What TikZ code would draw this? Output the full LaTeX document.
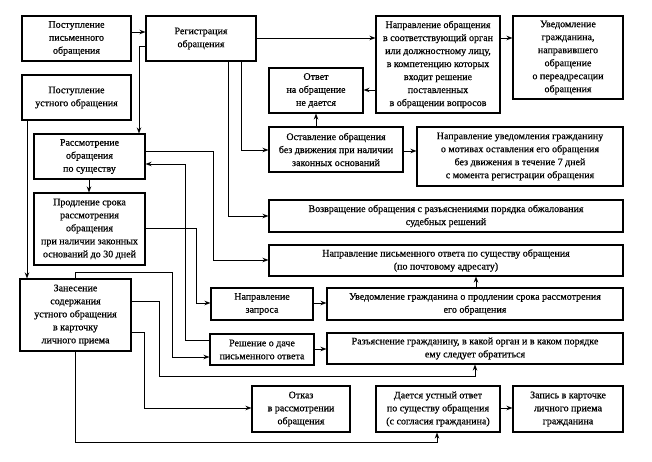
\documentclass[tikz,border=0pt]{standalone}
\usepackage{fontspec}
\setmainfont{Liberation Serif}[FakeBold=0.6]
\usetikzlibrary{arrows.meta}
\newcommand\mybx[6]{\node[box, minimum width={(#4-#2)*1pt}, minimum height={(#5-#3)*1pt}] (#1) at ({(#2+#4)/2},{(#3+#5)/2}) {#6};}
\begin{document}
\begin{tikzpicture}[x=1pt,y=-1pt,
  box/.style={draw, line width=1.1pt, align=center, inner sep=1pt, font=\fontsize{10}{13}\selectfont},
  arr/.style={-{Stealth[length=6pt,width=4.5pt]}, line width=0.9pt}]
\useasboundingbox[fill=white] (0,0) rectangle (652,462);
\mybx{b1}{22}{16}{131}{61}{Поступление\\письменного\\обращения}
\mybx{b2}{146}{16}{256}{61}{Регистрация\\обращения}
\mybx{b3}{22}{75}{131}{120}{Поступление\\устного обращения}
\mybx{b4}{34}{134}{145}{179}{Рассмотрение\\обращения\\по существу}
\mybx{b5}{34}{193}{145}{265}{Продление срока\\рассмотрения\\обращения\\при наличии законных\\оснований до 30 дней}
\mybx{b6}{20}{279}{131}{351}{Занесение\\содержания\\устного обращения\\в карточку\\личного приема}
\mybx{b7}{376}{16}{500}{113}{Направление обращения\\в соответствующий орган\\или должностному лицу,\\в компетенцию которых\\входит решение\\поставленных\\в обращении вопросов}
\mybx{b8}{513}{16}{623}{99}{Уведомление\\гражданина,\\направившего\\обращение\\о переадресации\\обращения}
\mybx{b9}{269}{68}{363}{113}{Ответ\\на обращение\\не дается}
\mybx{b10}{269}{127}{403}{172}{Оставление обращения\\без движения при наличии\\законных оснований}
\mybx{b11}{417}{127}{623}{186}{Направление уведомления гражданину\\о мотивах оставления его обращения\\без движения в течение 7 дней\\с момента регистрации обращения}
\mybx{b12}{269}{200}{623}{232}{Возвращение обращения с разъяснениями порядка обжалования\\судебных решений}
\mybx{b13}{269}{245}{623}{276}{Направление письменного ответа по существу обращения\\(по почтовому адресату)}
\mybx{b14}{211}{288}{313}{320}{Направление\\запроса}
\mybx{b15}{327}{288}{623}{320}{Уведомление гражданина о продлении срока рассмотрения\\его обращения}
\mybx{b16}{210}{334}{314}{365}{Решение о даче\\письменного ответа}
\mybx{b17}{327}{333}{623}{364}{Разъяснение гражданину, в какой орган и в каком порядке\\ему следует обратиться}
\mybx{b18}{252}{386}{350}{432}{Отказ\\в рассмотрении\\обращения}
\mybx{b19}{376}{386}{500}{432}{Дается устный ответ\\по существу обращения\\(с согласия гражданина)}
\mybx{b20}{513}{386}{623}{432}{Запись в карточке\\личного приема\\гражданина}
% connectors
\draw[arr] (b1.east |- 0,32) -- (b2.west |- 0,32);
\draw[arr] (b2.west |- 0,46) -| (b4.north -| 139,0);
\draw[arr] (b2.east |- 0,38) -- (b7.west |- 0,38);
\draw[arr] (b7.east |- 0,38) -- (b8.west |- 0,38);
\draw[arr] (b7.west |- 0,90) -- (b9.east |- 0,90);
\draw[arr] (b10.north -| 316,0) -- (b9.south -| 316,0);
\draw[arr] (b10.east |- 0,151) -- (b11.west |- 0,151);
\draw[arr] (b2.south -| 241,0) |- (b10.west |- 0,150);
\draw[arr] (b2.south -| 228,0) |- (b12.west);
\draw[arr] (b4.east |- 0,151) -| (213,260) -- (b13.west |- 0,260);
\draw[arr] (b4.south -| 89,0) -- (b5.north -| 89,0);
\draw[arr] (b16.west |- 0,340) -| (185,164) -- (b4.east |- 0,164);
\draw[arr] (b5.east |- 0,228) -| (196,303) -- (b14.west |- 0,303);
\draw[arr] (b14.east |- 0,303) -- (b15.west |- 0,303);
\draw[arr] (b15.north -| 476,0) -- (b13.south -| 476,0);
\draw[arr] (b16.east |- 0,349) -- (b17.west |- 0,349);
\draw[arr] (b6.north -| 75,0) -- (75,272) -| (172,357) -- (b16.west |- 0,357);
\draw[arr] (b6.east |- 0,301) -| (159,376) -| (b17.south -| 475,0);
\draw[arr] (b6.east |- 0,332) -| (144,408) -- (b18.west |- 0,408);
\draw[arr] (b6.south -| 75,0) |- (437,442) -- (b19.south -| 437,0);
\draw[arr] (b3.south -| 27,0) -- (b6.north -| 27,0);
\draw[arr] (b19.east |- 0,408) -- (b20.west |- 0,408);
\end{tikzpicture}
\end{document}
